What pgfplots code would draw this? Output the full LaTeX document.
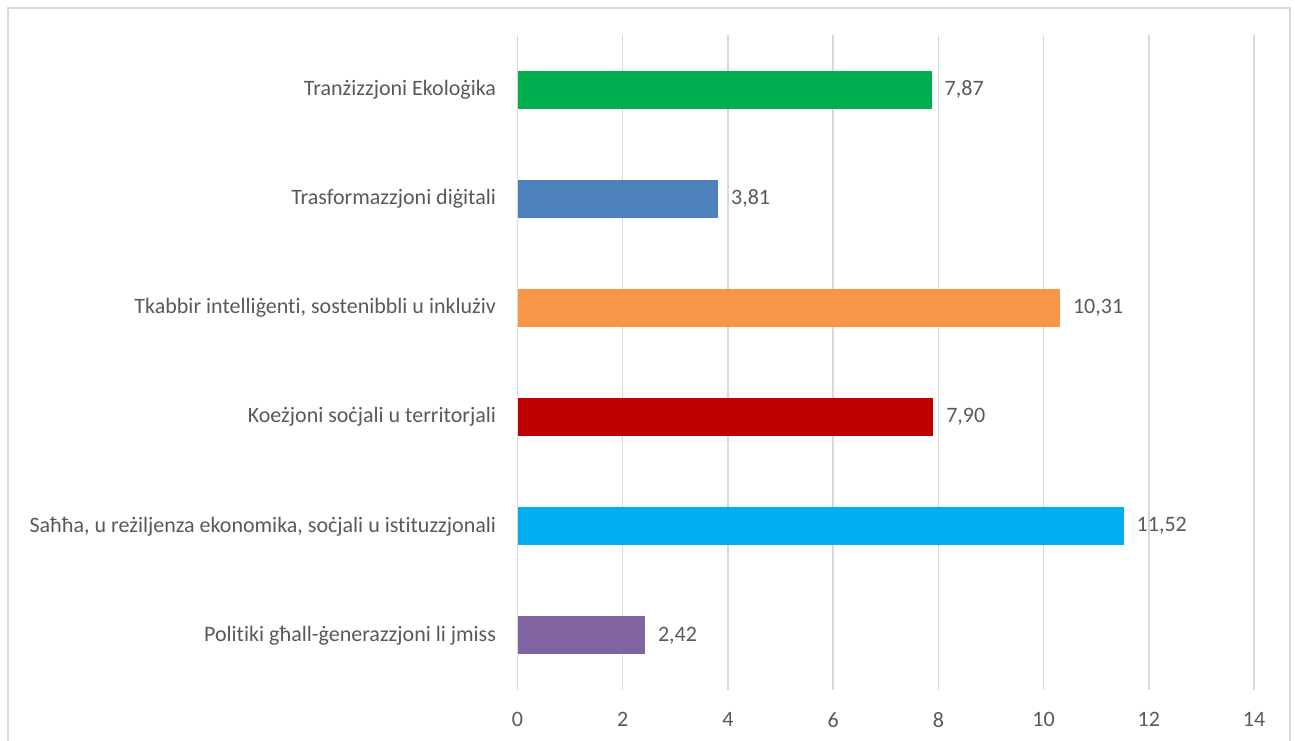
\documentclass[border=0pt]{standalone}
\usepackage{pgfplots}
\pgfplotsset{compat=1.18}
\usepackage{fontspec}
\setmainfont{Carlito}[Ligatures={NoCommon}]
\definecolor{txt}{HTML}{595959}
\definecolor{gridc}{HTML}{D9D9D9}
\definecolor{cgreen}{HTML}{00B050}
\definecolor{cblue}{HTML}{4F81BD}
\definecolor{corange}{HTML}{F79646}
\definecolor{cred}{HTML}{C00000}
\definecolor{ccyan}{HTML}{00B0F0}
\definecolor{cpurple}{HTML}{8064A2}
\begin{document}
\begin{tikzpicture}
\useasboundingbox (0pt,0pt) rectangle (1295pt,740pt);
\clip (0pt,0pt) rectangle (1295pt,740pt);
\draw[gridc, line width=1.5pt] (8pt,-10pt) rectangle (1290pt,732pt);
\begin{axis}[
  at={(517.5pt,50pt)}, anchor=south west,
  scale only axis, width=736.5pt, height=655pt,
  xmin=0, xmax=14, ymin=-0.5, ymax=5.5,
  xtick={0,2,...,14},
  ytick={0,...,5},
  yticklabels={{Politiki għall-ġenerazzjoni li jmiss},{Saħħa, u reżiljenza ekonomika, soċjali u istituzzjonali},{Koeżjoni soċjali u territorjali},{Tkabbir intelliġenti, sostenibbli u inklużiv\hspace{4pt}},{Trasformazzjoni diġitali},{Tranżizzjoni Ekoloġika}},
  xmajorgrids, major grid style={gridc, line width=1.5pt},
  axis line style={draw=none},
  tick style={draw=none},
  /pgf/number format/assume math mode=true,
  ticklabel style={font=\fontsize{22}{24}\selectfont, text=txt, inner sep=0pt},
  yticklabel style={anchor=east, xshift=-17pt},
  xticklabel style={anchor=north, yshift=-22.5pt},
  xbar, bar width=38pt, bar shift=0pt,
  nodes near coords,
  nodes near coords style={font=\fontsize{22}{24}\selectfont, text=txt, anchor=west, inner sep=0pt, xshift=13pt,
    /pgf/number format/.cd, fixed, fixed zerofill, precision=2, use comma, assume math mode=true},
]
\addplot[draw=none, fill=cpurple] coordinates {(2.42,0)};
\addplot[draw=none, fill=ccyan] coordinates {(11.52,1)};
\addplot[draw=none, fill=cred] coordinates {(7.90,2)};
\addplot[draw=none, fill=corange] coordinates {(10.31,3)};
\addplot[draw=none, fill=cblue] coordinates {(3.81,4)};
\addplot[draw=none, fill=cgreen] coordinates {(7.87,5)};
\end{axis}
\end{tikzpicture}
\end{document}
